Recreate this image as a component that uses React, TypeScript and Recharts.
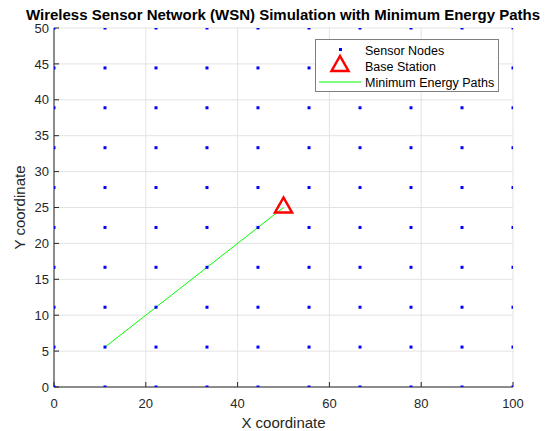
import { ComposedChart, Scatter, Line, XAxis, YAxis, CartesianGrid, Label } from 'recharts'

// sensor grid positions (10 x 10)
const nodeX = [0, 11.11, 22.22, 33.33, 44.44, 55.56, 66.67, 77.78, 88.89, 100]
const nodeY = [0, 5.56, 11.11, 16.67, 22.22, 27.78, 33.33, 38.89, 44.44, 50]

// base station
const stationX = [50]
const stationY = [25]

// minimum energy path hops
const pathX = [11.11, 22.22, 33.33, 44.44, 50]
const pathY = [5.56, 11.11, 16.67, 22.22, 25]

const xTicks = [0, 20, 40, 60, 80, 100]
const yTicks = [0, 5, 10, 15, 20, 25, 30, 35, 40, 45, 50]

const FONT = '"Liberation Sans", Arial, sans-serif'
const AXIS = '#262626'

const nodes = nodeX.flatMap((x) => nodeY.map((y) => ({ x, y })))
const station = stationX.map((x, i) => ({ x, y: stationY[i] }))
const path = pathX.map((x, i) => ({ x, y: pathY[i] }))

function NodeDot(props: any) {
  const { cx, cy } = props
  return <rect x={cx - 1.5} y={cy - 1.5} width={3} height={3} fill="#0000ff" />
}

function Triangle(props: any) {
  const { cx, cy } = props
  return (
    <polygon
      points={`${cx},${cy - 10} ${cx - 8.5},${cy + 5} ${cx + 8.5},${cy + 5}`}
      fill="none"
      stroke="#ff0000"
      strokeWidth={2.5}
      strokeLinejoin="miter"
    />
  )
}

export default function App() {
  return (
    <div style={{ position: 'absolute', left: 0, top: 0, width: 553, height: 431, background: '#fff', fontFamily: FONT }}>
      <div
        style={{
          position: 'absolute',
          left: 0,
          width: 566,
          top: 6,
          textAlign: 'center',
          fontWeight: 'bold',
          fontSize: 15,
          color: '#000',
          lineHeight: '17px',
          whiteSpace: 'nowrap',
        }}
      >
        Wireless Sensor Network (WSN) Simulation with Minimum Energy Paths
      </div>
      <ComposedChart width={553} height={431} margin={{ top: 28, right: 40, bottom: 0, left: 0 }}>
        <CartesianGrid stroke="#e3e3e3" vertical horizontal />
        <XAxis
          xAxisId="top"
          orientation="top"
          type="number"
          dataKey="x"
          domain={[0, 100]}
          ticks={xTicks}
          height={0}
          tick={false}
          tickSize={-5}
          stroke={AXIS}
          allowDataOverflow
        />
        <YAxis
          yAxisId="right"
          orientation="right"
          type="number"
          dataKey="y"
          domain={[0, 50]}
          ticks={yTicks}
          width={0}
          tick={false}
          tickSize={-5}
          stroke={AXIS}
          allowDataOverflow
        />
        <XAxis
          type="number"
          dataKey="x"
          domain={[0, 100]}
          ticks={xTicks}
          height={44}
          tickSize={-5}
          tickMargin={17}
          stroke={AXIS}
          tick={{ fill: AXIS, fontSize: 13, fontFamily: FONT }}
          allowDataOverflow
        >
          <Label value="X coordinate" position="insideBottom" offset={3} style={{ fill: AXIS, fontSize: 15, fontFamily: FONT }} />
        </XAxis>
        <YAxis
          type="number"
          dataKey="y"
          domain={[0, 50]}
          ticks={yTicks}
          width={54}
          tickSize={-5}
          tickMargin={10}
          stroke={AXIS}
          tick={{ fill: AXIS, fontSize: 13, fontFamily: FONT }}
          allowDataOverflow
        >
          <Label value="Y coordinate" angle={-90} position="insideLeft" offset={20} style={{ fill: AXIS, fontSize: 15, fontFamily: FONT, textAnchor: 'middle' }} />
        </YAxis>
        <Line
          data={path}
          dataKey="y"
          type="linear"
          stroke="#00ff00"
          strokeWidth={1}
          dot={false}
          activeDot={false}
          isAnimationActive={false}
        />
        <Scatter data={nodes} dataKey="y" shape={NodeDot} isAnimationActive={false} />
        <Scatter data={station} dataKey="y" shape={Triangle} isAnimationActive={false} />
      </ComposedChart>
      <div
        style={{
          position: 'absolute',
          left: 315,
          top: 39,
          width: 184,
          height: 53,
          boxSizing: 'border-box',
          border: '1px solid #7f7f7f',
          background: '#fff',
        }}
      >
        <svg width={184} height={53} style={{ position: 'absolute', left: -1, top: -1 }}>
          <rect x={24} y={9} width={3} height={3} fill="#0000ff" />
          <polygon points="25,17 16.5,32 33.5,32" fill="none" stroke="#ff0000" strokeWidth={2.5} />
          <line x1={4} x2={46} y1={43} y2={43} stroke="#00ff00" strokeWidth={1} />
          <text x={50} y={15.5} fontSize={12.5} fill="#000" fontFamily={FONT}>Sensor Nodes</text>
          <text x={50} y={31.5} fontSize={12.5} fill="#000" fontFamily={FONT}>Base Station</text>
          <text x={50} y={47.5} fontSize={12.5} fill="#000" fontFamily={FONT}>Minimum Energy Paths</text>
        </svg>
      </div>
    </div>
  )
}
